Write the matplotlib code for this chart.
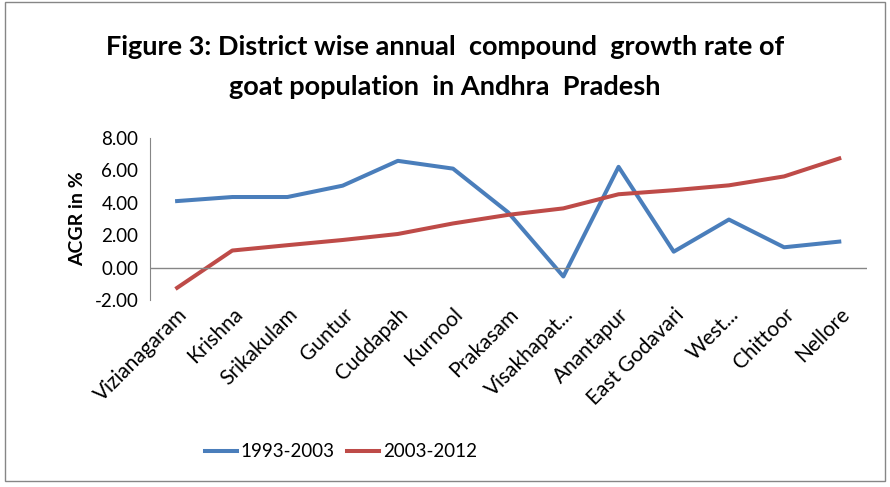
import matplotlib.pyplot as plt
from matplotlib.patches import Rectangle

districts = ['Vizianagaram', 'Krishna', 'Srikakulam', 'Guntur', 'Cuddapah', 'Kurnool',
             'Prakasam', 'Visakhapat...', 'Anantapur', 'East Godavari', 'West...',
             'Chittoor', 'Nellore']
acgr_1993_2003 = [4.10, 4.35, 4.35, 5.05, 6.58, 6.10, 3.40, -0.55, 6.21, 0.98, 2.96, 1.25, 1.60]
acgr_2003_2012 = [-1.25, 1.05, 1.38, 1.70, 2.07, 2.72, 3.25, 3.65, 4.52, 4.77, 5.07, 5.62, 6.73]
yticks = [-2, 0, 2, 4, 6, 8]

plt.rcParams['font.family'] = ['Lato', 'DejaVu Sans']

fig = plt.figure(figsize=(8.9, 4.87), dpi=100)
ax = fig.add_axes([0.168, 0.384, 0.806, 0.333])

x = range(len(districts))
ax.plot(x, acgr_1993_2003, color='#4A7EBB', lw=2.9, label='1993-2003')
ax.plot(x, acgr_2003_2012, color='#BE4B48', lw=2.9, label='2003-2012')

ax.set_xlim(-0.5, len(districts) - 0.5)
ax.set_ylim(-2, 8)
ax.set_yticks(yticks)
ax.set_yticklabels(['%.2f' % v for v in yticks], fontsize=13.5)
ax.set_xticks(list(x))
ax.set_xticklabels(districts, rotation=45, ha='right', rotation_mode='anchor', fontsize=15)
ax.tick_params(axis='x', length=0, pad=3)
ax.tick_params(axis='y', length=0, pad=8)

for side in ['top', 'right', 'bottom']:
    ax.spines[side].set_visible(False)
ax.spines['left'].set_color('#868686')
ax.axhline(0, color='#868686', lw=1)

ax.set_ylabel('ACGR in %', fontsize=14, fontweight='bold', labelpad=6)

fig.text(0.5, 0.903, 'Figure 3: District wise annual  compound  growth rate of',
         ha='center', va='center', fontsize=19.5, fontweight='bold')
fig.text(0.5, 0.821, 'goat population  in Andhra  Pradesh',
         ha='center', va='center', fontsize=19.5, fontweight='bold')

fig.legend(loc='center', bbox_to_anchor=(0.383, 0.072), ncol=2, frameon=False,
           fontsize=13.5, handlelength=1.7, columnspacing=0.7, handletextpad=0.2)

fig.patches.append(Rectangle((0.006, 0.012), 0.988, 0.984, transform=fig.transFigure,
                             fill=False, edgecolor='#868686', lw=1))

fig.savefig('out.png', dpi=100)
